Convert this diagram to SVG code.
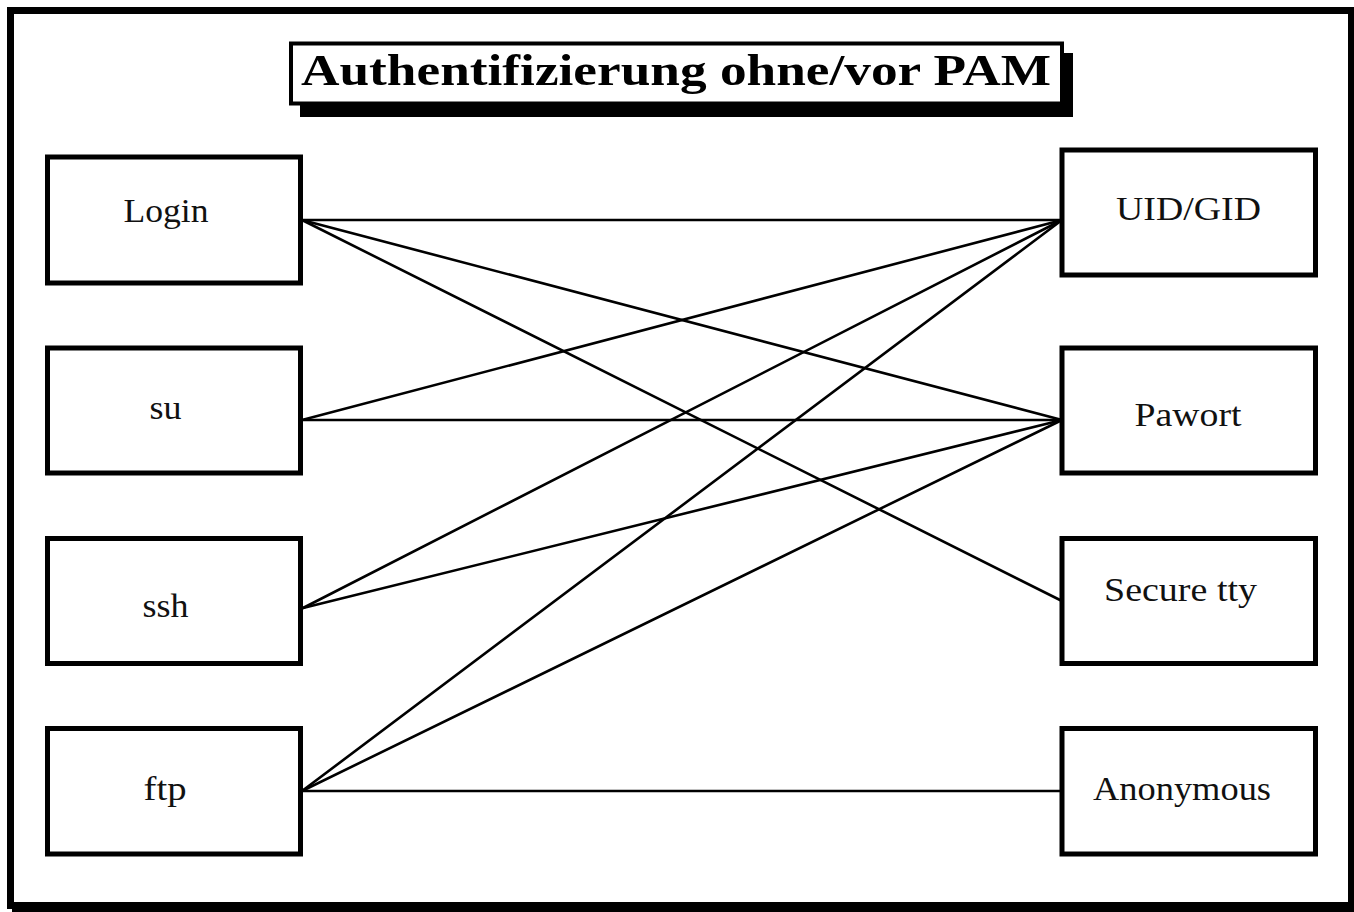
<svg xmlns="http://www.w3.org/2000/svg" width="1354" height="912" viewBox="0 0 1354 912">
  <style>
    .frame { fill: #ffffff; stroke: #000000; stroke-width: 7; }
    .shadow { fill: #000000; stroke: none; }
    .box { fill: #ffffff; stroke: #000000; stroke-width: 5; }
    .title-box { fill: #ffffff; stroke: #000000; stroke-width: 4; }
    .label { font-family: "Liberation Serif", "DejaVu Serif", serif; font-size: 34px; fill: #111111; text-anchor: middle; }
    .title { font-family: "Liberation Serif", "DejaVu Serif", serif; font-size: 44px; font-weight: bold; fill: #000000; }
    .edge { stroke: #000000; stroke-width: 2.6; fill: none; stroke-linecap: round; }
  </style>

  <!-- page frame with drop shadow -->
  <rect class="shadow" x="12" y="12" width="1350" height="900"/>
  <rect class="frame" x="10.5" y="10.5" width="1341" height="895"/>

  <!-- heading -->
  <g id="title">
    <rect class="shadow" x="300" y="53" width="773" height="64"/>
    <rect class="title-box" x="291" y="43.5" width="771" height="60"/>
    <text class="title" x="301" y="85" textLength="750" lengthAdjust="spacingAndGlyphs">Authentifizierung ohne/vor PAM</text>
  </g>

  <!-- connections between services and checks -->
  <g id="connectors">
    <line class="edge" x1="302" y1="220" x2="1062" y2="220"/>
    <line class="edge" x1="302" y1="220" x2="1062" y2="420"/>
    <line class="edge" x1="302" y1="220" x2="1062" y2="601"/>
    <line class="edge" x1="302" y1="420" x2="1062" y2="220"/>
    <line class="edge" x1="302" y1="420" x2="1062" y2="420"/>
    <line class="edge" x1="303" y1="608" x2="1062" y2="220"/>
    <line class="edge" x1="303" y1="608" x2="1062" y2="420"/>
    <line class="edge" x1="302" y1="791" x2="1062" y2="220"/>
    <line class="edge" x1="302" y1="791" x2="1062" y2="420"/>
    <line class="edge" x1="302" y1="791" x2="1062" y2="791"/>
  </g>

  <!-- services (left column) -->
  <g id="login">
    <rect class="box" x="47.5" y="157" width="253" height="126"/>
    <text class="label" x="166" y="222" textLength="85" lengthAdjust="spacingAndGlyphs">Login</text>
  </g>
  <g id="su">
    <rect class="box" x="47.5" y="348" width="253" height="125"/>
    <text class="label" x="165.5" y="419" textLength="32" lengthAdjust="spacingAndGlyphs">su</text>
  </g>
  <g id="ssh">
    <rect class="box" x="47.5" y="538.5" width="253" height="125"/>
    <text class="label" x="165.5" y="617" textLength="46" lengthAdjust="spacingAndGlyphs">ssh</text>
  </g>
  <g id="ftp">
    <rect class="box" x="47.5" y="728.5" width="253" height="125.5"/>
    <text class="label" x="165" y="800" textLength="43" lengthAdjust="spacingAndGlyphs">ftp</text>
  </g>

  <!-- checks (right column) -->
  <g id="uid-gid">
    <rect class="box" x="1062" y="150" width="253.5" height="125"/>
    <text class="label" x="1188.5" y="220" textLength="145" lengthAdjust="spacingAndGlyphs">UID/GID</text>
  </g>
  <g id="pawort">
    <rect class="box" x="1062" y="348" width="253.5" height="125"/>
    <text class="label" x="1188" y="426" textLength="107" lengthAdjust="spacingAndGlyphs">Pawort</text>
  </g>
  <g id="secure-tty">
    <rect class="box" x="1062" y="538.5" width="253.5" height="125"/>
    <text class="label" x="1180.5" y="601" textLength="153" lengthAdjust="spacingAndGlyphs">Secure tty</text>
  </g>
  <g id="anonymous">
    <rect class="box" x="1062" y="728.5" width="253.5" height="125.5"/>
    <text class="label" x="1182" y="800" textLength="178" lengthAdjust="spacingAndGlyphs">Anonymous</text>
  </g>
</svg>
